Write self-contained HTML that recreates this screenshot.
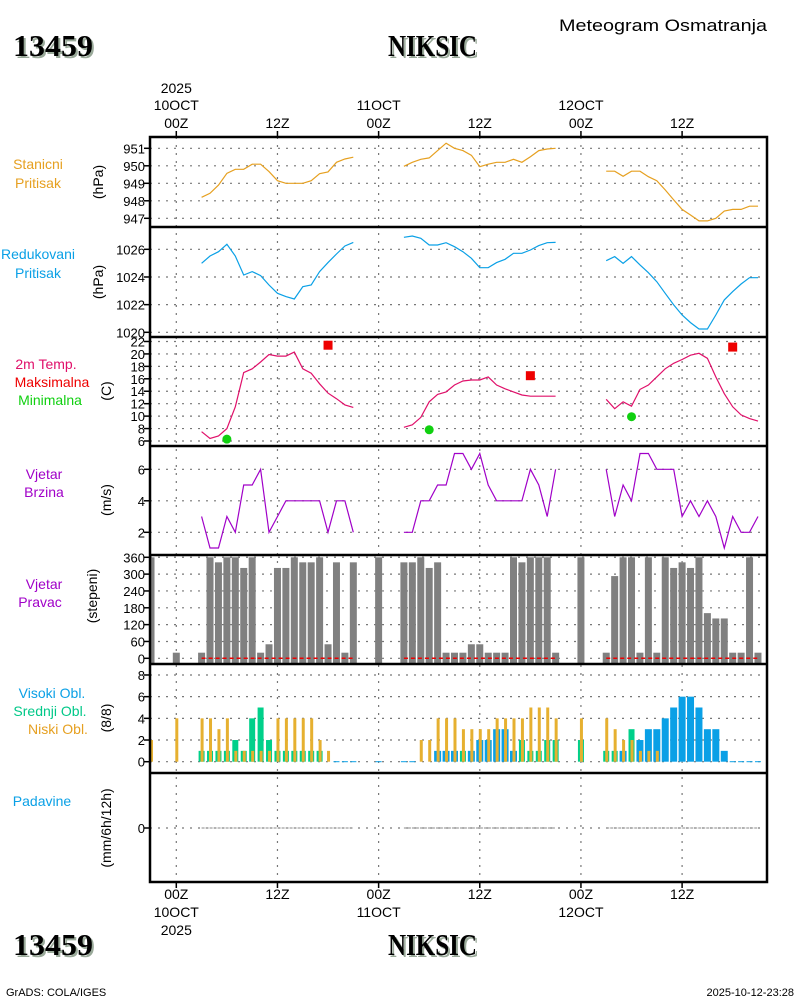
<!DOCTYPE html>
<html><head><meta charset="utf-8"><style>
html,body{margin:0;padding:0;background:#fff;}
svg{display:block;font-family:"Liberation Sans",sans-serif;}
</style></head><body>
<svg id="chart" width="800" height="1000" viewBox="0 0 800 1000" xmlns="http://www.w3.org/2000/svg">
<g id="static">
<text x="767" y="31" text-anchor="end" font-size="17" fill="#000" textLength="208" lengthAdjust="spacingAndGlyphs">Meteogram Osmatranja</text>
<text x="15" y="58" font-family="Liberation Serif" font-weight="bold" font-size="31" fill="#9aaa9a" textLength="80" lengthAdjust="spacingAndGlyphs">13459</text>
<text x="13" y="56" font-family="Liberation Serif" font-weight="bold" font-size="31" fill="#000" textLength="80" lengthAdjust="spacingAndGlyphs">13459</text>
<text x="390" y="58" font-family="Liberation Serif" font-weight="bold" font-size="31" fill="#9aaa9a" textLength="89" lengthAdjust="spacingAndGlyphs">NIKSIC</text>
<text x="388" y="56" font-family="Liberation Serif" font-weight="bold" font-size="31" fill="#000" textLength="89" lengthAdjust="spacingAndGlyphs">NIKSIC</text>
<text x="15" y="957" font-family="Liberation Serif" font-weight="bold" font-size="31" fill="#9aaa9a" textLength="80" lengthAdjust="spacingAndGlyphs">13459</text>
<text x="13" y="955" font-family="Liberation Serif" font-weight="bold" font-size="31" fill="#000" textLength="80" lengthAdjust="spacingAndGlyphs">13459</text>
<text x="390" y="957" font-family="Liberation Serif" font-weight="bold" font-size="31" fill="#9aaa9a" textLength="89" lengthAdjust="spacingAndGlyphs">NIKSIC</text>
<text x="388" y="955" font-family="Liberation Serif" font-weight="bold" font-size="31" fill="#000" textLength="89" lengthAdjust="spacingAndGlyphs">NIKSIC</text>
<text x="6" y="996" font-size="11" fill="#000">GrADS: COLA/IGES</text>
<text x="794" y="996" text-anchor="end" font-size="11" fill="#000">2025-10-12-23:28</text>

<g font-size="14" text-anchor="middle">
<text x="38" y="169" fill="#e6a020">Stanicni</text>
<text x="38" y="188" fill="#e6a020">Pritisak</text>
<text x="38" y="259" fill="#0aa0e6">Redukovani</text>
<text x="38" y="278" fill="#0aa0e6">Pritisak</text>
<text x="46" y="369" fill="#e0106a">2m Temp.</text>
<text x="52" y="387" fill="#ee0000">Maksimalna</text>
<text x="50" y="405" fill="#10d010">Minimalna</text>
<text x="44" y="479" fill="#a000c8">Vjetar</text>
<text x="44" y="497" fill="#a000c8">Brzina</text>
<text x="44" y="589" fill="#a000c8">Vjetar</text>
<text x="40" y="607" fill="#a000c8">Pravac</text>
<text x="52" y="698" fill="#0aa0e6">Visoki Obl.</text>
<text x="50" y="716" fill="#00c888">Srednji Obl.</text>
<text x="58" y="734" fill="#e6a020">Niski Obl.</text>
<text x="42" y="806" fill="#0aa0e6">Padavine</text>
</g>
<g font-size="14" text-anchor="middle" fill="#000">
<text transform="translate(103,182) rotate(-90)">(hPa)</text>
<text transform="translate(103,282) rotate(-90)">(hPa)</text>
<text transform="translate(111,391) rotate(-90)">(C)</text>
<text transform="translate(111,500) rotate(-90)">(m/s)</text>
<text transform="translate(97,596) rotate(-90)">(stepeni)</text>
<text transform="translate(111,718) rotate(-90)">(8/8)</text>
<text transform="translate(111,828) rotate(-90)">(mm/6h/12h)</text>
</g>
</g>
<g id="grid"></g>
<g id="marks"></g>
<g id="frame"></g>
</svg>
<script>
// ---- data (hours from 00Z 10 OCT 2025) ----
const seg1Hours = [3,4,5,6,7,8,9,10,11,12,13,14,15,16,17,18,19,20,21];
const seg2Hours = [27,28,29,30,31,32,33,34,35,36,37,38,39,40,41,42,43,44,45];
const seg3Hours = [51,52,53,54,55,56,57,58,59,60,61,62,63,64,65,66,67,68,69];
const stationP1 = [948.2,948.43,948.9,949.57,949.8,949.8,950.09,950.09,949.67,949.15,949.0,949.0,949.0,949.15,949.55,949.65,950.2,950.39,950.49];
const stationP2 = [949.97,950.2,950.37,950.45,950.87,951.29,951.0,950.87,950.6,949.95,950.09,950.2,950.2,950.37,950.2,950.52,950.87,950.96,951.0];
const stationP3 = [949.69,949.69,949.4,949.69,949.69,949.38,949.15,948.62,948.05,947.51,947.19,946.85,946.85,947.0,947.42,947.51,947.51,947.69,947.69];
const reducedP1 = [1024.99,1025.52,1025.83,1026.36,1025.52,1024.14,1024.39,1024.1,1023.42,1022.82,1022.58,1022.41,1023.3,1023.42,1024.39,1025.04,1025.66,1026.24,1026.5];
const reducedP2 = [1026.87,1026.96,1026.8,1026.31,1026.31,1026.48,1026.19,1025.83,1025.35,1024.67,1024.67,1025.04,1025.28,1025.71,1025.71,1025.95,1026.27,1026.48,1026.5];
const reducedP3 = [1025.18,1025.47,1024.99,1025.47,1024.87,1024.31,1023.66,1022.82,1021.98,1021.25,1020.7,1020.24,1020.24,1021.25,1022.34,1022.94,1023.49,1023.95,1023.95];
const temp1 = [7.5,6.4,6.8,8.0,11.5,17.0,17.6,18.7,19.9,19.65,19.65,20.3,17.6,16.9,15.2,13.7,12.8,11.8,11.4];
const temp2 = [8.2,8.6,9.8,12.3,13.5,13.9,15.0,15.65,15.8,15.8,16.3,15.0,14.4,13.9,13.4,13.2,13.2,13.2,13.2];
const temp3 = [12.7,11.2,12.3,11.6,14.3,15.0,16.3,17.6,18.5,19.1,19.8,20.1,19.3,16.3,13.6,11.5,10.2,9.6,9.2];
const maxTempHours = [18,42,66];
const maxTempValues = [21.4,16.5,21.1];
const minTempHours = [6,30,54];
const minTempValues = [6.3,7.8,9.9];
const wind1 = [3,1,1,3,2,5,5,6,2,3,4,4,4,4,4,2,4,4,2];
const wind2 = [2,2,4,4,5,5,7,7,6,7,5,4,4,4,4,6,5,3,6];
const wind3 = [6,3,5,4,7,7,6,6,6,3,4,3,4,3,1,3,2,2,3];
const dirHours = [-3,0,3,4,5,6,7,8,9,10,11,12,13,14,15,16,17,18,19,20,21,24,27,28,29,30,31,32,33,34,35,36,37,38,39,40,41,42,43,44,45,48,51,52,53,54,55,56,57,58,59,60,61,62,63,64,65,66,67,68,69];
const dirValues = [360,20,20,360,342,360,360,322,360,20,50,322,322,360,342,342,360,50,342,20,342,360,342,342,360,322,342,20,20,20,50,50,20,20,20,360,342,360,360,360,20,360,20,293,360,360,20,360,20,360,322,342,322,360,161,142,142,20,20,360,20];
const cloudHours = [-3,0,3,4,5,6,7,8,9,10,11,12,13,14,15,16,17,18,19,20,21,24,27,28,29,30,31,32,33,34,35,36,37,38,39,40,41,42,43,44,45,48,51,52,53,54,55,56,57,58,59,60,61,62,63,64,65,66,67,68,69];
const cloudLow  = [2,4,4,4,3,4,1,1,1,1,1,4,4,4,4,4,2,1,0,0,0,0,0,0,2,2,4,4,4,3,3,3,3,4,4,4,4,5,5,5,4,4,4,3,2,2,1,1,1,0,0,0,0,0,0,0,0,0,0,0,0];
const cloudMid  = [0,0,1,1,1,1,2,1,4,5,2,1,1,1,1,1,1,0,0,0,0,0,0,0,0,0,0,0,0,1,0,0,0,0,0,0,2,1,1,2,2,2,1,1,0,3,0,0,0,0,0,0,0,0,0,0,0,0,0,0,0];
const cloudHigh = [0,0,0,0,0,0,0,0,0,0,0,0,0,0,0,0,0,0,0,0,0,0,0,0,0,0,1,1,1,0,1,2,2,3,3,1,0,0,0,0,0,0,0,0,1,0,2,3,3,4,5,6,6,5,3,3,1,0,0,0,0];
const tickLabelsP1 = [947,948,949,950,951];
const tickLabelsP2 = [1020,1022,1024,1026];
const tickLabelsT = [6,8,10,12,14,16,18,20,22];
const tickLabelsW = [2,4,6];
const tickLabelsD = [0,60,120,180,240,300,360];
const tickLabelsC = [0,2,4,6,8];
const tickLabelsR = [0];
const timeTickHours = [0,12,24,36,48,60];
const timeTickHour = ["00Z","12Z","00Z","12Z","00Z","12Z"];
const timeTickDay = ["10OCT","","11OCT","","12OCT",""];

// ---- axis functions ----
const X0 = 176.3, PX_PER_H = 8.43, LEFT = 150, RIGHT = 767;
const xH = h => X0 + h * PX_PER_H;
const yP1 = v => 218.3 - (v - 947) * 17.5;
const yP2 = v => 332.3 - (v - 1020) * 13.83;
const yT = v => 441 - (v - 6) * 6.22;
const yW = v => 532.3 - (v - 2) * 15.75;
const yD = v => 658.3 - v * 0.2806;
const yC = v => 761.7 - v * 10.84;
const yR = v => 828 - v * 10;
const panels = [[137,227],[227,337],[337,446],[446,555],[555,664],[664,773],[773,882]];

const NS = "http://www.w3.org/2000/svg";
function mk(parent, tag, attrs){const e=document.createElementNS(NS,tag);for(const k in attrs)e.setAttribute(k,attrs[k]);parent.appendChild(e);return e;}
const grid = document.getElementById('grid'), marks = document.getElementById('marks'), frame = document.getElementById('frame');

timeTickHours.forEach((h,i)=>{
  const x = xH(h);
  const g = mk(grid,'line',{x1:x,x2:x,y1:137,y2:882,stroke:'#777','stroke-width':1.2,'stroke-dasharray':'2,6'});
  
  
  [[137,131],[882,888]].forEach(([a,b])=>{mk(frame,'line',{x1:x,x2:x,y1:a,y2:b,stroke:'#000','stroke-width':1.5});});
  const t1 = mk(frame,'text',{x:x,y:128,'text-anchor':'middle','font-size':14,fill:'#000'});
  t1.textContent = timeTickHour[i];
  
  
  const t2 = mk(frame,'text',{x:x,y:899,'text-anchor':'middle','font-size':14,fill:'#000'});
  t2.textContent = timeTickHour[i];
  
  
  if(timeTickDay[i]){
    const d1 = mk(frame,'text',{x:x,y:110,'text-anchor':'middle','font-size':14,fill:'#000'});
    d1.textContent = timeTickDay[i];
    
    
    const d2 = mk(frame,'text',{x:x,y:917,'text-anchor':'middle','font-size':14,fill:'#000'});
    d2.textContent = timeTickDay[i];
    
    
  }
});
[[93],[935]].forEach(([y])=>{const t=mk(frame,'text',{x:xH(0),y:y,'text-anchor':'middle','font-size':14,fill:'#000'});t.textContent='2025';
  
  });

function yTicks(vals, fy, name){
  vals.forEach(v=>{
    const y = fy(v);
    const l = mk(grid,'line',{x1:LEFT,x2:RIGHT,y1:y,y2:y,stroke:'#777','stroke-width':1.2,'stroke-dasharray':'2,6'});
    
    
    mk(frame,'line',{x1:LEFT-6,x2:LEFT,y1:y,y2:y,stroke:'#000','stroke-width':1.5});
    const t = mk(frame,'text',{x:LEFT-5,y:y+5,'text-anchor':'end','font-size':13,fill:'#000'});
    t.textContent = v;
    
    
  });
}
yTicks(tickLabelsP1,yP1,'station-pressure');
yTicks(tickLabelsP2,yP2,'reduced-pressure');
yTicks(tickLabelsT,yT,'temperature');
yTicks(tickLabelsW,yW,'wind-speed');
yTicks(tickLabelsD,yD,'wind-direction');
yTicks(tickLabelsC,yC,'cloud');
yTicks(tickLabelsR,yR,'precip');

mk(frame,'rect',{x:LEFT,y:137,width:RIGHT-LEFT,height:745,fill:'none',stroke:'#000','stroke-width':2.5});
panels.slice(1).forEach(p=>{mk(frame,'line',{x1:LEFT,x2:RIGHT,y1:p[0],y2:p[0],stroke:'#000','stroke-width':2.5});});

function line(hours, vals, fy, color, name){
  const pts = hours.map((h,i)=>xH(h).toFixed(1)+','+fy(vals[i]).toFixed(1)).join(' ');
  const p = mk(marks,'polyline',{points:pts,fill:'none',stroke:color,'stroke-width':1.2});
  
  
}
[[stationP1,seg1Hours],[stationP2,seg2Hours],[stationP3,seg3Hours]].forEach(([v,h])=>line(h,v,yP1,'#e6a020','station-pressure-line'));
[[reducedP1,seg1Hours],[reducedP2,seg2Hours],[reducedP3,seg3Hours]].forEach(([v,h])=>line(h,v,yP2,'#0aa0e6','reduced-pressure-line'));
[[temp1,seg1Hours],[temp2,seg2Hours],[temp3,seg3Hours]].forEach(([v,h])=>line(h,v,yT,'#e0106a','temperature-line'));
[[wind1,seg1Hours],[wind2,seg2Hours],[wind3,seg3Hours]].forEach(([v,h])=>line(h,v,yW,'#a000c8','wind-speed-line'));

maxTempHours.forEach((h,i)=>{
  const r = mk(marks,'rect',{x:xH(h)-4.5,y:yT(maxTempValues[i])-4.5,width:9,height:9,fill:'#ee0000'});
  
  
});
minTempHours.forEach((h,i)=>{
  const c = mk(marks,'circle',{cx:xH(h),cy:yT(minTempValues[i]),r:4.5,fill:'#10d010'});
  
  
});

dirHours.forEach((h,i)=>{
  const x = Math.max(LEFT, xH(h)-3.5), x2 = xH(h)+3.5;
  const y = yD(dirValues[i]);
  const r = mk(marks,'rect',{x:x,y:y,width:x2-x,height:663-y,fill:'#808080'});
  
  
});
[seg1Hours,seg2Hours,seg3Hours].forEach(s=>{
  const l = mk(marks,'line',{x1:xH(s[0]),x2:xH(s[s.length-1]),y1:yD(0),y2:yD(0),stroke:'#ee0000','stroke-width':1.5,'stroke-dasharray':'4,3'});
  
  
});

cloudHours.forEach((h,i)=>{
  const xc = xH(h);
  if(cloudHigh[i]>0){
    const r = mk(marks,'rect',{x:xc-3.5,y:yC(cloudHigh[i]),width:7,height:yC(0)-yC(cloudHigh[i]),fill:'#0aa0e6'});
    
    
  }
  if(cloudMid[i]>0){
    const r = mk(marks,'rect',{x:xc-3,y:yC(cloudMid[i]),width:6,height:yC(0)-yC(cloudMid[i]),fill:'#00d08a'});
    
    
  }
  if(cloudLow[i]>0){
    const r = mk(marks,'rect',{x:xc-1,y:yC(cloudLow[i]),width:3,height:yC(0)-yC(cloudLow[i]),fill:'#e6b030'});
    
    
  }
  if(cloudLow[i]+cloudMid[i]+cloudHigh[i]===0 && h>0){
    const r = mk(marks,'line',{x1:xc-3,x2:xc+3,y1:yC(0),y2:yC(0),stroke:'#0aa0e6','stroke-width':1});
    
    
  }
});

[seg1Hours,seg2Hours,seg3Hours].forEach(s=>{
  const l = mk(marks,'line',{x1:xH(s[0]),x2:xH(s[s.length-1]),y1:yR(0),y2:yR(0),stroke:'#888','stroke-width':1,'stroke-dasharray':'3,1'});
  
  
});
</script>
</body></html>
